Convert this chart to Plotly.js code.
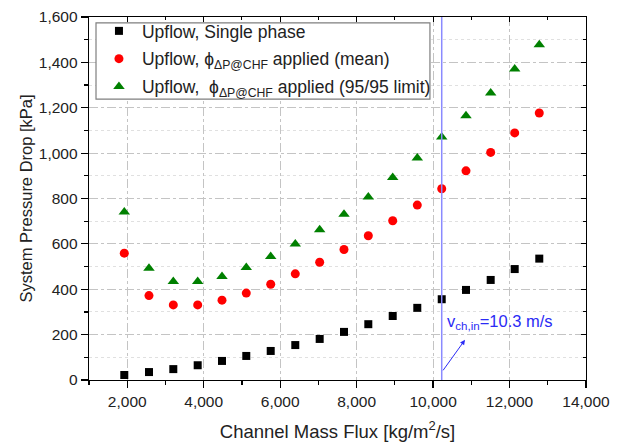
<!DOCTYPE html>
<html>
<head>
<meta charset="utf-8">
<script src="https://cdn.plot.ly/plotly-3.0.1.min.js"></script>
<style>html,body{margin:0;padding:0;background:#fff;}#chart{width:627px;height:446px;}</style>
</head>
<body>
<div id="chart"></div>
<script>
// Data
const massFlux = [1923, 2569, 3205, 3843, 4479, 5114, 5753, 6396, 7034, 7670, 8306, 8944, 9587, 10226, 10861, 11507, 12135, 12778];
const singlePhase = [22, 35, 48, 65, 84, 106, 128, 154, 181, 212, 246, 282, 318, 356, 397, 441, 489, 535];
const meanPhi = [559, 372, 331, 331, 352, 383, 422, 468, 519, 575, 636, 702, 771, 843, 922, 1003, 1089, 1177];
const limitPhi = [740, 493, 434, 434, 456, 496, 544, 600, 662, 731, 807, 893, 978, 1071, 1165, 1265, 1371, 1478];
const seriesNames = [
  'Upflow, Single phase',
  'Upflow, \u03D5<sub>\u0394P@CHF</sub> applied (mean)',
  'Upflow, \u00A0\u03D5<sub>\u0394P@CHF</sub> applied (95/95 limit)'
];
const refVelocityFlux = 10226;
const refLabel = 'v<sub>ch,in</sub>=10.3 m/s';
const xRange = [1000, 14000];
const yRange = [0, 1600];

const FONT = 'Liberation Sans, Arial, Helvetica, sans-serif';
const refBlue = '#2b2bf5';

const traces = [
  {x: massFlux, y: singlePhase, name: seriesNames[0], type: 'scatter', mode: 'markers',
   marker: {symbol: 'square', size: 8, color: '#000000'}, legendgroup: 'a'},
  {x: massFlux, y: meanPhi, name: seriesNames[1], type: 'scatter', mode: 'markers',
   marker: {symbol: 'circle', size: 9, color: '#ff0000'}, legendgroup: 'b'},
  {x: massFlux, y: limitPhi, name: seriesNames[2], type: 'scatter', mode: 'markers',
   marker: {symbol: 'triangle-up', size: 10, color: '#008000'}, legendgroup: 'c'},
  {x: [], y: [], xaxis: 'x2', yaxis: 'y2', showlegend: false, hoverinfo: 'skip', type: 'scatter'}
];

const axisCommon = {
  showline: true, linecolor: '#000', linewidth: 1.3, zeroline: false,
  tickfont: {family: FONT, size: 15.5, color: '#222'},
  tickcolor: '#000', tickwidth: 1.2, ticklen: 7, ticks: 'outside',
  gridcolor: '#c4c4c4', griddash: 'dashdot', gridwidth: 1,
  tickformat: ',d', mirror: true
};

const layout = {
  width: 627, height: 446,
  margin: {l: 89, r: 41, t: 17, b: 66},
  paper_bgcolor: '#fff', plot_bgcolor: '#fff',
  font: {family: FONT, color: '#222'},
  showlegend: true,
  xaxis: Object.assign({}, axisCommon, {
    range: xRange, tick0: 0, dtick: 2000,
    minor: {dtick: 1000, ticklen: 4, ticks: 'outside', tickcolor: '#000', showgrid: false},
    title: {text: 'Channel Mass Flux [kg/m<sup>2</sup>/s]', font: {family: FONT, size: 18.5, color: '#222'}, standoff: 16}
  }),
  yaxis: Object.assign({}, axisCommon, {
    range: yRange, tick0: 0, dtick: 200,
    minor: {dtick: 100, ticklen: 4, ticks: 'outside', tickcolor: '#000', showgrid: true, gridcolor: '#e0e0e0', griddash: 'dot'},
    title: {text: 'System Pressure Drop [kPa]', font: {family: FONT, size: 16.5, color: '#222'}, standoff: 2}
  }),
  xaxis2: {overlaying: 'x', side: 'top', range: xRange, tick0: 0, dtick: 2000, ticks: 'inside', ticklen: 5,
    tickcolor: '#000', showticklabels: false, showgrid: false, showline: false, zeroline: false,
    minor: {dtick: 1000, ticks: 'inside', ticklen: 3, tickcolor: '#000'}},
  yaxis2: {overlaying: 'y', side: 'right', anchor: 'x2', range: yRange, tick0: 0, dtick: 200, ticks: 'inside', ticklen: 5,
    tickcolor: '#000', showticklabels: false, showgrid: false, showline: false, zeroline: false,
    minor: {dtick: 100, ticks: 'inside', ticklen: 3, tickcolor: '#000'}},
  legend: {
    x: 0.014, y: 1.011, xanchor: 'left', yanchor: 'top',
    bgcolor: 'rgba(0,0,0,0)', borderwidth: 0,
    font: {family: FONT, size: 17.5, color: '#222'},
    tracegroupgap: 2, itemwidth: 36
  },
  shapes: [
    {type: 'rect', xref: 'paper', yref: 'paper', x0: 0.0141, x1: 0.686, y0: 0.774, y1: 0.984,
     fillcolor: '#ffffff', line: {color: '#7f7f7f', width: 1.2}, layer: 'above'},
    {type: 'line', xref: 'x', yref: 'paper', x0: refVelocityFlux, x1: refVelocityFlux, y0: 0, y1: 1,
     line: {color: '#8a8aff', width: 1.5}}
  ],
  annotations: [
    {x: 10835, y: 177, xref: 'x', yref: 'y', ax: -23, ay: 32, text: '', showarrow: true,
     arrowhead: 2, arrowsize: 1, arrowwidth: 1, arrowcolor: refBlue},
    {x: 10312, y: 256, xref: 'x', yref: 'y', text: refLabel, showarrow: false,
     xanchor: 'left', yanchor: 'middle', font: {family: FONT, size: 16.5, color: refBlue}}
  ]
};

Plotly.newPlot('chart', traces, layout, {displayModeBar: false, staticPlot: true});
</script>
</body>
</html>
